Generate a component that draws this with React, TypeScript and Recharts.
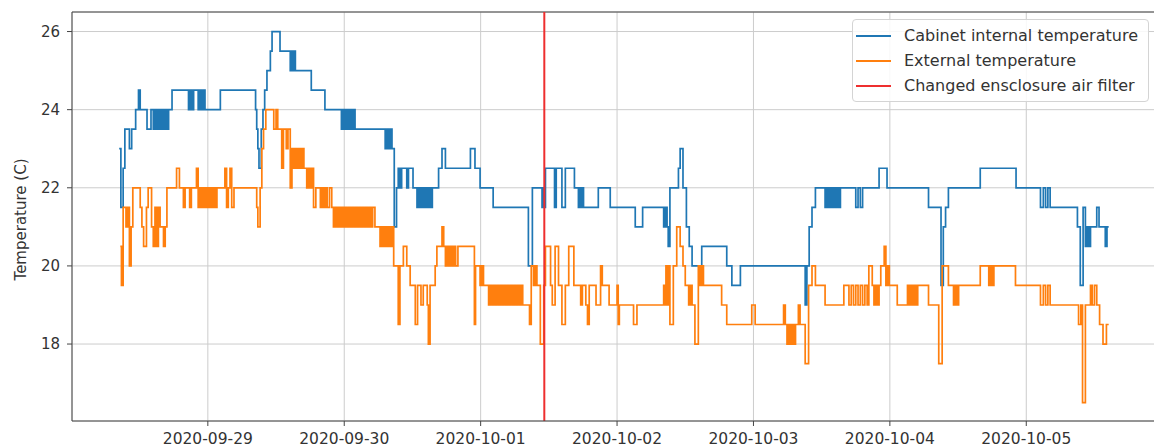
import React from "react";
import {
    LineChart,
    Line,
    XAxis,
    YAxis,
    CartesianGrid,
    ReferenceLine,
    Legend,
    Label
} from "recharts";

// hours counted from 2020-09-28 00:00
const dayTicks = [24, 48, 72, 96, 120, 144, 168];
const dayLabels = ["2020-09-29", "2020-09-30", "2020-10-01", "2020-10-02", "2020-10-03", "2020-10-04", "2020-10-05"];
const tempTicks = [18, 20, 22, 24, 26];
const filterChangeHour = 83.2;

const seriesNames = ["Cabinet internal temperature", "External temperature", "Changed ensclosure air filter"];
const seriesColors = ["#1f77b4", "#ff7f0e", "#ee2f2f"];

// [hour, temperature] change points
const cabinetTemp: [number, number][] = [
    [8.4, 23], [8.7, 21.5], [9.1, 22.5], [9.4, 23.5], [10.2, 23], [10.6, 23.5], [11.3, 24], [11.8, 24.5], [12.1, 24],
    [13.3, 23.5], [14.0, 24], [14.4, 23.5], [14.7, 24], [15.0, 23.5], [15.3, 24], [15.6, 23.5], [15.9, 24], [16.2, 23.5], [16.5, 24], [16.8, 23.5], [17.1, 24], [17.7, 24.5],
    [20.6, 24], [20.9, 24.5], [21.2, 24], [21.5, 24.5], [22.3, 24], [22.6, 24.5], [22.9, 24], [23.2, 24.5], [23.5, 24], [26.2, 24.5],
    [32.4, 24], [32.6, 23.5], [32.8, 23], [33.0, 22.5], [33.4, 23.5], [33.7, 24], [34.0, 24.5], [34.4, 25], [35.0, 25.5], [35.3, 26],
    [36.7, 25.5], [38.5, 25], [38.7, 25.5], [38.9, 25], [39.1, 25.5], [39.4, 25], [42.2, 24.5], [44.6, 24],
    [47.5, 23.5], [47.8, 24], [48.1, 23.5], [48.4, 24], [48.7, 23.5], [49.0, 24], [49.3, 23.5], [49.6, 24], [49.9, 23.5],
    [55.2, 23], [55.5, 23.5], [55.8, 23], [56.1, 23.5], [56.4, 23], [56.8, 21], [57.2, 22], [57.5, 22.5], [57.8, 22], [58.1, 22.5], [59.0, 22], [59.3, 22.5], [60.1, 22],
    [60.8, 21.5], [61.1, 22], [61.4, 21.5], [61.7, 22], [62.0, 21.5], [62.3, 22], [62.6, 21.5], [62.9, 22], [63.2, 21.5], [63.5, 22],
    [64.6, 22.5], [65.2, 23], [65.8, 22.5], [70.2, 23], [71.0, 22.5], [71.9, 22], [74.2, 21.5], [80.4, 20], [81.1, 22],
    [82.8, 21.5], [83.0, 22], [83.2, 21.5], [83.4, 22.5], [85.0, 21.5], [85.3, 22.5], [86.3, 21.5], [86.9, 22.5], [88.5, 22],
    [89.2, 21.5], [89.4, 22], [89.6, 21.5], [89.8, 22], [90.1, 21.5], [92.7, 22], [94.8, 21.5], [99.2, 21], [100.5, 21.5],
    [104.2, 21], [104.5, 21.5], [104.8, 21], [105.0, 20.5], [105.3, 22], [106.8, 22.5], [107.1, 23], [107.6, 22], [108.2, 21], [108.7, 20.5], [109.2, 20],
    [110.9, 20.5], [115.3, 20], [116.2, 19.5], [117.7, 20], [129.1, 19], [129.4, 20], [129.8, 21], [130.3, 21.5], [130.9, 22],
    [132.6, 21.5], [132.9, 22], [133.2, 21.5], [133.5, 22], [133.8, 21.5], [134.1, 22], [134.4, 21.5], [134.7, 22], [135.0, 21.5], [135.3, 22],
    [138.0, 21.5], [138.4, 22], [138.8, 21.5], [139.2, 22], [142.1, 22.5], [143.5, 22], [150.8, 21.5], [153.0, 19.5], [153.4, 21], [153.8, 21.5], [154.3, 22],
    [159.9, 22.5], [166.2, 22], [170.5, 21.5], [171.0, 22], [171.4, 21.5], [171.8, 22], [172.2, 21.5],
    [177.0, 21], [177.5, 19.5], [178.0, 21.5], [178.4, 20.5], [178.7, 21], [179.0, 20.5], [179.3, 21], [180.4, 21.5], [180.8, 21], [181.9, 20.5], [182.2, 21], [182.5, 21]
];

const externalTemp: [number, number][] = [
    [8.6, 20.5], [8.8, 19.5], [9.1, 21.5], [9.6, 21], [9.9, 21.5], [10.2, 20], [10.5, 21], [10.8, 22],
    [12.1, 21.5], [12.4, 21], [12.7, 20.5], [13.2, 21.5], [13.5, 22], [14.1, 21], [14.4, 20.5], [14.7, 21.5], [15.0, 20.5], [15.3, 21.5], [15.6, 21], [16.2, 20.5], [16.5, 21], [16.8, 22],
    [18.5, 22.5], [19.0, 22], [19.7, 21.5], [20.0, 22], [20.8, 21.5], [21.1, 22], [22.0, 22.5], [22.3, 21.5], [22.6, 22], [22.9, 21.5], [23.2, 22], [23.5, 21.5], [23.8, 22], [24.1, 21.5], [24.4, 22], [24.7, 21.5], [25.0, 22], [25.3, 21.5], [25.6, 22],
    [27.0, 22.5], [27.3, 21.5], [27.6, 22], [27.9, 22.5], [28.2, 21.5], [28.6, 22],
    [32.6, 21.5], [32.8, 21], [33.2, 22], [33.5, 23], [33.8, 23.5], [34.2, 24], [35.6, 23.5], [36.0, 24], [36.3, 23.5], [37.0, 22.5], [37.3, 23.5], [37.8, 23], [38.1, 23.5], [38.5, 22],
    [38.8, 23], [39.1, 22.5], [39.4, 23], [39.7, 22.5], [40.0, 23], [40.3, 22.5], [40.6, 23], [40.9, 22.5], [41.4, 22], [41.7, 22.5], [42.0, 22], [42.3, 22.5], [42.6, 21.5], [43.0, 22],
    [43.8, 21.5], [44.1, 22], [44.4, 21.5], [44.7, 22], [45.0, 21.5], [45.4, 22], [45.8, 21.5], [46.1, 21], [46.4, 21.5], [46.7, 21], [47.0, 21.5], [47.3, 21], [47.6, 21.5], [47.9, 21], [48.2, 21.5], [48.5, 21],
    [48.8, 21.5], [49.1, 21], [49.4, 21.5], [49.7, 21], [50.0, 21.5], [50.3, 21], [50.6, 21.5], [50.9, 21], [51.2, 21.5], [51.5, 21], [51.8, 21.5], [52.1, 21], [52.4, 21.5], [52.7, 21], [53.0, 21.5], [53.4, 21],
    [54.3, 20.5], [54.6, 21], [54.9, 20.5], [55.2, 21], [55.5, 20.5], [55.8, 21], [56.1, 20.5], [56.4, 21], [56.7, 20], [57.5, 18.5], [57.8, 20], [58.4, 20.5], [59.0, 20], [59.6, 19.5], [60.5, 18.5], [60.9, 19.5], [61.5, 19], [61.9, 19.5], [62.6, 19], [62.8, 18], [63.1, 19.5],
    [64.0, 20], [64.3, 20.5], [65.2, 21], [65.5, 20.5], [65.8, 20], [66.1, 20.5], [66.4, 20], [66.7, 20.5], [67.0, 20], [67.3, 20.5], [67.6, 20], [68.0, 20.5], [70.9, 18.5], [71.1, 20], [71.9, 19.5], [72.2, 20], [72.5, 19.5],
    [73.4, 19], [73.7, 19.5], [74.0, 19], [74.3, 19.5], [74.6, 19], [74.9, 19.5], [75.2, 19], [75.5, 19.5], [75.8, 19], [76.1, 19.5], [76.4, 19], [76.7, 19.5], [77.0, 19], [77.3, 19.5], [77.6, 19], [77.9, 19.5], [78.2, 19], [78.5, 19.5], [78.8, 19], [79.1, 19.5], [79.4, 19],
    [80.6, 18.5], [80.9, 20], [81.3, 19.5], [81.6, 20], [81.9, 19.5], [82.5, 18], [83.1, 19.5], [83.4, 20.5], [84.3, 19.5], [84.6, 19], [85.1, 20.5], [85.7, 19.5], [86.3, 18.5], [86.9, 19.5], [87.5, 20.5], [88.4, 19.5],
    [89.6, 19], [89.9, 19.5], [90.5, 19], [90.8, 18.5], [91.1, 19.5], [92.3, 19], [93.1, 20], [93.4, 19.5], [94.6, 19], [96.0, 19.5], [96.2, 18.5], [96.4, 19],
    [98.9, 18.5], [99.5, 19], [104.2, 19.5], [104.4, 19], [104.6, 20], [104.8, 19], [105.0, 20], [105.3, 18.5], [105.9, 20], [106.5, 21], [107.1, 20.5], [107.6, 20], [108.0, 19.5], [108.6, 19], [108.9, 19.5], [109.2, 19], [109.7, 18],
    [110.3, 20], [110.6, 19.5], [110.9, 20], [111.2, 19.5], [114.4, 19], [115.3, 18.5],
    [119.7, 19], [120.3, 18.5], [125.3, 19], [125.6, 18.5], [125.9, 18], [126.2, 18.5], [126.5, 18], [126.8, 18.5], [127.1, 18], [127.4, 18.5], [127.9, 19], [128.2, 18.5], [129.1, 17.5], [129.7, 19.5], [130.3, 20], [130.9, 19.5], [132.6, 19],
    [135.9, 19.5], [136.8, 19], [137.2, 19.5], [137.6, 19], [138.0, 19.5], [138.4, 19], [138.8, 19.5], [139.2, 19], [139.6, 19.5], [140.0, 19], [140.3, 20], [140.9, 19.5], [141.2, 19], [141.5, 19.5], [141.8, 19], [142.1, 19.5],
    [142.4, 20], [143.0, 20.5], [143.3, 19.5], [143.6, 20], [143.9, 19.5], [145.3, 19],
    [147.1, 19.5], [147.4, 19], [147.7, 19.5], [148.0, 19], [148.3, 19.5], [148.6, 19], [148.9, 19.5], [150.8, 19], [152.6, 17.5], [153.2, 20], [154.3, 19.5], [155.2, 19], [155.5, 19.5], [155.8, 19], [156.1, 19.5],
    [159.9, 20], [161.4, 19.5], [161.7, 20], [162.0, 19.5], [162.3, 20], [166.1, 19.5], [170.5, 19], [171.0, 19.5], [171.4, 19], [171.8, 19.5], [172.2, 19],
    [177.2, 18.5], [177.6, 19], [177.9, 16.5], [178.4, 19], [179.3, 19.5], [179.6, 19], [180.0, 19.5], [180.4, 19], [180.9, 18.5], [181.5, 18], [182.1, 18.5], [182.5, 18.5]
];

const FONT = "'DejaVu Sans', sans-serif";
const X_DOMAIN: [number, number] = [0.1, 191];
const Y_DOMAIN: [number, number] = [16.03, 26.5];

const toPoints = (rows: [number, number][]) => rows.map(([t, v]) => ({ t, v }));

function LegendBox() {
    return (
        <div
            style={{
                background: "rgba(255,255,255,0.85)",
                border: "1px solid #d4d4d4",
                borderRadius: 4,
                padding: "3px 10px 3px 3px",
                fontFamily: FONT,
                fontSize: 16,
                color: "#333"
            }}
        >
            {seriesNames.map((name, i) => (
                <div key={name} style={{ display: "flex", alignItems: "center", height: 25, whiteSpace: "nowrap" }}>
                    <span style={{ display: "inline-block", width: 35, height: 2, background: seriesColors[i], marginRight: 13 }} />
                    <span>{name}</span>
                </div>
            ))}
        </div>
    );
}

function YLabel(props: any) {
    const vb = props.viewBox || { x: 0, y: 0, height: 0 };
    const x = vb.x + 20.5;
    const y = vb.y + vb.height / 2 + 3;
    return (
        <text x={x} y={y} transform={`rotate(-90 ${x} ${y})`} textAnchor="middle" dominantBaseline="central"
            fill="#333" fontSize={15} fontFamily={FONT}>
            Temperature (C)
        </text>
    );
}

export default function App() {
    const cabinet = React.useMemo(() => toPoints(cabinetTemp), []);
    const external = React.useMemo(() => toPoints(externalTemp), []);

    return (
        <div style={{ position: "absolute", left: 0, top: 0, width: 1154, height: 448, overflow: "hidden", background: "#fff" }}>
            <LineChart width={1160} height={448} margin={{ top: 12, right: 3, bottom: 0, left: 0 }} style={{ fontFamily: FONT }}>
                <CartesianGrid stroke="#cccccc" strokeWidth={1} />
                <XAxis
                    type="number"
                    dataKey="t"
                    domain={X_DOMAIN}
                    allowDataOverflow
                    ticks={dayTicks}
                    tickFormatter={(t: number) => dayLabels[dayTicks.indexOf(t)] ?? ""}
                    height={27}
                    tickSize={5}
                    tickMargin={7}
                    tick={{ fill: "#333", fontSize: 15.5, fontFamily: FONT }}
                    stroke="#444"
                    interval={0}
                />
                <YAxis
                    type="number"
                    domain={Y_DOMAIN}
                    allowDataOverflow
                    ticks={tempTicks}
                    width={72}
                    tickSize={5}
                    tickMargin={7}
                    tick={{ fill: "#333", fontSize: 15, fontFamily: FONT }}
                    stroke="#444"
                    interval={0}
                >
                    <Label content={<YLabel />} />
                </YAxis>
                <ReferenceLine y={Y_DOMAIN[1]} stroke="#444" strokeWidth={1.2} ifOverflow="visible" />
                <Line data={cabinet} dataKey="v" type="stepAfter" stroke={seriesColors[0]} strokeWidth={1.7} dot={false} isAnimationActive={false} />
                <Line data={external} dataKey="v" type="stepAfter" stroke={seriesColors[1]} strokeWidth={1.7} dot={false} isAnimationActive={false} />
                <ReferenceLine x={filterChangeHour} stroke={seriesColors[2]} strokeWidth={2} />
                <Legend
                    layout="vertical"
                    align="center"
                    verticalAlign="middle"
                    content={<LegendBox />}
                    wrapperStyle={{ left: 852, top: 19, width: "auto" }}
                />
            </LineChart>
        </div>
    );
}
